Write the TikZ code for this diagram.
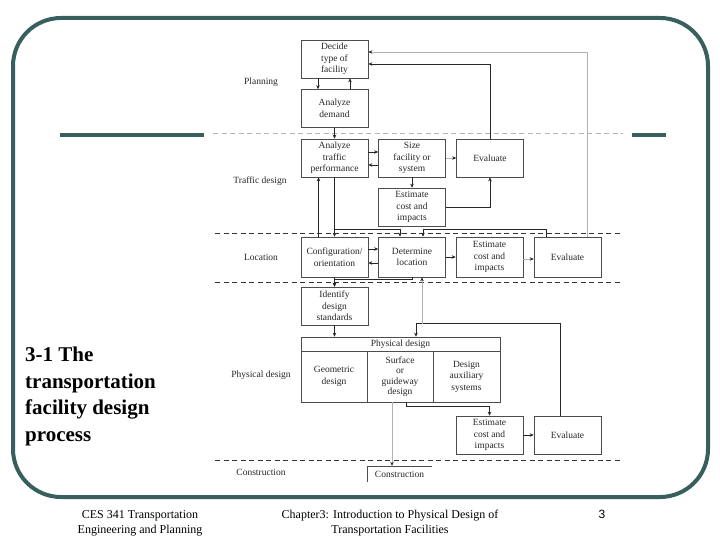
\documentclass[tikz,border=0pt]{standalone}
\usepackage{fontspec}
\setmainfont{Liberation Serif}
\newfontfamily\digitfont{Liberation Sans}
\usetikzlibrary{arrows.meta}
\definecolor{frameteal}{RGB}{56,94,94}
\tikzset{
  stage/.style={draw=black!70, line width=0.6pt, minimum width=67pt, minimum height=38pt,
    inner sep=0pt, align=center, font=\fontsize{9.5}{11.5}\selectfont, text=black!85},
  rowlabel/.style={font=\fontsize{9.5}{11.5}\selectfont, text=black!85},
  flow/.style={draw=black!85, line width=0.6pt, -{Stealth[length=4pt,width=3.5pt]}},
  faint/.style={draw=black!30, line width=0.6pt, -{Stealth[length=4pt,width=3.5pt,color=black!85]}},
  split/.style={draw=black!80, line width=0.6pt, dash pattern=on 5pt off 3.5pt}
}

\begin{document}
\begin{tikzpicture}[x=1pt,y=-1pt]
\useasboundingbox (0,0) rectangle (720,540);

% Slide frame
\draw[frameteal, line width=4pt, rounded corners=48pt] (13,18) rectangle (708,497);
\draw[frameteal, line width=4pt] (60,135) -- (204,135);
\draw[frameteal, line width=4pt] (632,135) -- (666,135);

% Phase separators
\draw[split, draw=black!30] (213,133) -- (623,133);
\draw[split] (215,233) -- (620,233);
\draw[split] (215,282) -- (620,282);
\draw[split] (215,460) -- (620,460);

% Phase labels
\node[rowlabel] (lplan) at (261,82) {Planning};
\node[rowlabel] (ltraffic) at (260,181) {Traffic design};
\node[rowlabel] (lloc) at (261,257) {Location};
\node[rowlabel] (lphys) at (261,375) {Physical design};
\node[rowlabel] (lconstr) at (261,472) {Construction};

% Planning
\node[stage] (decide) at (334.5,59) {Decide\\type of\\facility};
\node[stage] (demand) at (334.5,108.5) {Analyze\\demand};

% Traffic design
\node[stage] (traffic) at (334.5,158) {Analyze\\traffic\\performance};
\node[stage] (size) at (412,158) {Size\\facility or\\system};
\node[stage] (evaltr) at (490,158) {Evaluate};
\node[stage] (esttr) at (412,207) {Estimate\\cost and\\impacts};

% Location
\node[stage, minimum height=40pt] (config) at (334.5,257) {Configuration/\\orientation};
\node[stage, minimum height=40pt] (determine) at (412,257) {Determine\\location};
\node[stage, minimum height=40pt] (estloc) at (489.5,257) {Estimate\\cost and\\impacts};
\node[stage, minimum height=40pt] (evalloc) at (567.5,257) {Evaluate};
\node[stage] (identify) at (334.5,306) {Identify\\design\\standards};

% Physical design
\node[stage, minimum width=199pt, minimum height=14pt] (physhead) at (400.5,344) {Physical design};
\node[stage, minimum width=66pt, minimum height=51pt] (geom) at (334,376.5) {Geometric\\design};
\node[stage, minimum width=66pt, minimum height=51pt, font=\fontsize{9.5}{10.5}\selectfont] (surf) at (400,376.5) {Surface\\or\\guideway\\design};
\node[stage, minimum width=67pt, minimum height=51pt] (aux) at (466.5,376.5) {Design\\auxiliary\\systems};
\node[stage] (estphys) at (489.5,435) {Estimate\\cost and\\impacts};
\node[stage] (evalphys) at (567.5,435) {Evaluate};

% Construction
\node[rowlabel, minimum width=65pt, minimum height=16pt, inner sep=0pt] (constr) at (399.5,474) {Construction};
\draw[draw=black!70, line width=0.6pt] (constr.south west) -- (constr.north west) -- (constr.north east);

% Connectors
\draw[flow] ([xshift=-16.5pt]decide.south) -- ([xshift=-16.5pt]demand.north);
\draw[flow] ([xshift=15.5pt]demand.north) -- ([xshift=15.5pt]decide.south);
\draw[flow] (demand.south) -- (traffic.north);
\draw[flow] ([yshift=6pt]traffic.east) -- ([yshift=6pt]size.west);
\draw[flow] ([yshift=-7pt]size.west) -- ([yshift=-7pt]traffic.east);
\draw[faint] (size.east) -- (evaltr.west);
\draw[flow] (size.south) -- (esttr.north);
\draw[flow] (esttr.east) -| (evaltr.south);
\draw[flow] (evaltr.north) |- ([yshift=-5pt]decide.east);
\draw[faint] ([xshift=19.5pt]evalloc.north) |- ([yshift=7pt]decide.east);

\draw[flow] ([xshift=-16pt]config.north) -- ([xshift=-16pt]traffic.south);
\draw[flow] (traffic.south) -- coordinate[pos=0.87] (branch) (config.north);
\draw[flow] (branch) -| ([xshift=-12pt]determine.north);
\draw[flow] ([xshift=-21.5pt]evalloc.north) -- ++(0,-7) -| ([xshift=11pt]determine.north);
\draw[flow] ([yshift=8pt]config.east) -- ([yshift=8pt]determine.west);
\draw[flow] ([yshift=-6pt]determine.west) -- ([yshift=-6pt]config.east);
\draw[flow] (determine.east) -- (estloc.west);
\draw[faint] ([yshift=-2pt]estloc.east) -- ([yshift=-2pt]evalloc.west);
\draw[flow] (config.south) -- (identify.north);
\draw[flow] (determine.south) -- ++(0,2) -| (identify.north);

\draw[flow] (identify.south) -- (identify.south |- physhead.north);
\draw[flow] ([xshift=-7.5pt]evalphys.north) -- ++(0,-92) coordinate (loopback) -| ([xshift=15.5pt]physhead.north);
\draw[faint] ([xshift=10pt]determine.south |- loopback) -- ([xshift=10pt]determine.south);
\draw[flow] ([xshift=6pt]surf.south) -- ++(0,4) -| (estphys.north);
\draw[flow] (estphys.east) -- (evalphys.west);
\draw[faint] ([xshift=-8pt]surf.south) -- ([xshift=-8pt]surf.south |- constr.north);

% Slide title and footer
\node[anchor=north west, align=left, inner sep=0pt, font=\fontsize{21}{26.5}\selectfont\bfseries] (title) at (25,347) {3-1 The\\transportation\\facility design\\process};
\node[align=center, font=\fontsize{12}{15}\selectfont] (course) at (140,523) {CES 341 Transportation\\Engineering and Planning};
\node[align=center, font=\fontsize{12}{15}\selectfont] (chapter) at (390,523) {Chapter3: Introduction to Physical Design of\\Transportation Facilities};
\node[font=\digitfont\fontsize{12}{15}\selectfont] (pageno) at (602,514) {3};

\end{tikzpicture}
\end{document}
